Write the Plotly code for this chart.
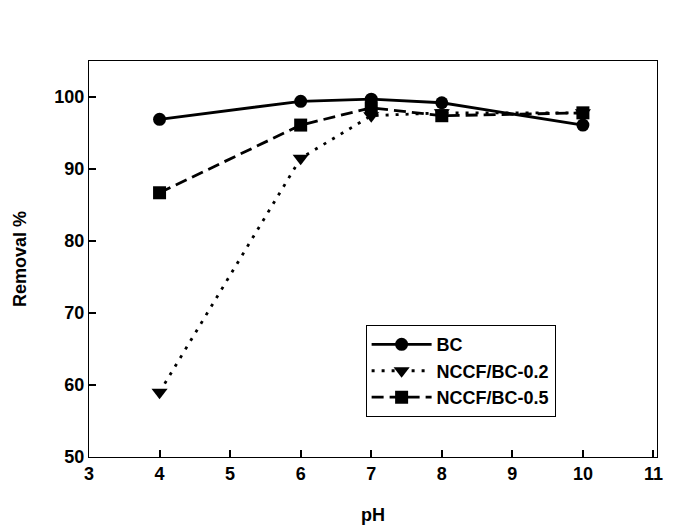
import plotly.graph_objects as go

ph = [4, 6, 7, 8, 10]
bc = [96.9, 99.4, 99.7, 99.2, 96.1]
nccf_02 = [59.0, 91.5, 97.4, 97.8, 97.8]
nccf_05 = [86.7, 96.1, 98.5, 97.4, 97.8]

fig = go.Figure()
fig.add_trace(go.Scatter(x=ph, y=bc, name="BC", mode="lines+markers",
                         line=dict(color="black", width=2.8, dash="solid"),
                         marker=dict(symbol="circle", size=13, color="black")))
fig.add_trace(go.Scatter(x=ph, y=nccf_02, name="NCCF/BC-0.2", mode="lines+markers",
                         line=dict(color="black", width=2.8, dash="3px,7px"),
                         marker=dict(symbol="triangle-down", size=14, color="black")))
fig.add_trace(go.Scatter(x=ph, y=nccf_05, name="NCCF/BC-0.5", mode="lines+markers",
                         line=dict(color="black", width=2.8, dash="12px,6px"),
                         marker=dict(symbol="square", size=13, color="black")))

bold = dict(family="Liberation Sans", size=18, color="black", weight="bold")
fig.update_layout(
    width=685, height=532,
    margin=dict(l=78, r=36, t=53, b=83),
    plot_bgcolor="white", paper_bgcolor="white",
    font=dict(family="Liberation Sans", size=18, color="black"),
    showlegend=True,
    legend=dict(x=0.487, y=0.333, xanchor="left", yanchor="top",
                bordercolor="black", borderwidth=1, bgcolor="white",
                font=bold, tracegroupgap=0, itemwidth=60),
)
fig.update_xaxes(range=[3, 11.05], tickvals=[3, 4, 5, 6, 7, 8, 9, 10, 11],
                 ticks="inside", ticklen=7, tickwidth=2, tickcolor="black",
                 showline=True, linecolor="black", linewidth=1.3, mirror=True,
                 showgrid=False, zeroline=False, tickfont=bold,
                 title=dict(text="pH", standoff=25, font=bold))
fig.update_yaxes(range=[50, 105], tickvals=[50, 60, 70, 80, 90, 100],
                 ticks="inside", ticklen=7, tickwidth=2, tickcolor="black",
                 showline=True, linecolor="black", linewidth=1.3, mirror=True,
                 showgrid=False, zeroline=False, tickfont=bold,
                 title=dict(text="Removal %", standoff=22, font=bold))

fig.write_html("out.html")
